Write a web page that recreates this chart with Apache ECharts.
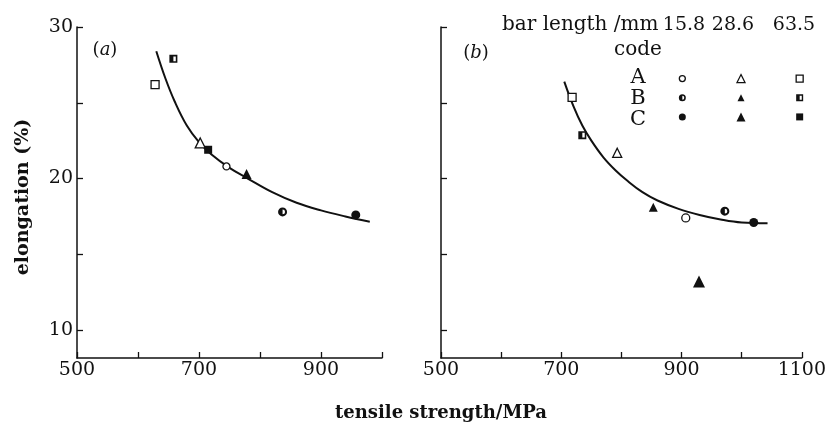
<!DOCTYPE html>
<html>
<head>
<meta charset="utf-8">
<script src="https://cdn.jsdelivr.net/npm/echarts@6/dist/echarts.min.js"></script>
<style>html,body{margin:0;padding:0;background:#fff}#c{width:829px;height:425px}</style>
</head>
<body>
<div id="c"></div>
<script>
// ---- data ----
const lengthsMm = ['15.8', '28.6', '63.5'];
const codes = ['A', 'B', 'C'];
const xTicksA = [500, 600, 700, 800, 900, 1000];
const xTicksB = [500, 600, 700, 800, 900, 1000, 1100];
const yTicks = [10, 15, 20, 25, 30];
const yLabels = [10, 20, 30];

// panel (a)
const aCircleOpen = [[745, 20.8]];
const aCircleHalf = [[837, 17.8]];
const aCircleFull = [[957, 17.6]];
const aTriOpen = [[702, 22.35]];
const aTriFull = [[778, 20.3]];
const aSqOpen = [[628, 26.2]];
const aSqHalf = [[658, 27.9]];
const aSqFull = [[715, 21.9]];
const aCurve = [[630, 28.4], [645, 26.6], [660, 25.1], [680, 23.5], [700, 22.4], [720, 21.6], [750, 20.7], [780, 20.0], [820, 19.1], [860, 18.4], [900, 17.9], [940, 17.5], [980, 17.15]];

// panel (b)
const bCircleOpen = [[907, 17.4]];
const bCircleHalf = [[972, 17.85]];
const bCircleFull = [[1020, 17.1]];
const bTriOpen = [[793, 21.7]];
const bTriHalf = [[853, 18.1]];
const bTriFull = [[929, 13.2]];
const bSqOpen = [[718, 25.35]];
const bSqHalf = [[735, 22.86]];
const bCurve = [[705, 26.4], [720, 24.8], [735, 23.5], [750, 22.5], [770, 21.4], [790, 20.55], [810, 19.85], [835, 19.1], [860, 18.55], [895, 18.0], [930, 17.6], [965, 17.3], [1000, 17.1], [1043, 17.05]];

// legend key (code x bar length)
const keyOpen = [['15.8', 'A'], ['28.6', 'A'], ['63.5', 'A']];
const keyHalf = [['15.8', 'B'], ['28.6', 'B'], ['63.5', 'B']];
const keyFull = [['15.8', 'C'], ['28.6', 'C'], ['63.5', 'C']];

// ---- styles ----
const SERIF = '"DejaVu Serif", "Liberation Serif", serif';
const INK = '#111';
const HALF_CIRCLE = 'path://M0,-10A10,10,0,1,1,0,10A10,10,0,1,1,0,-10ZM0,5.5A5.5,5.5,0,0,0,0,-5.5Z';
const HALF_SQUARE = 'path://M-10,-10L10,-10L10,10L-10,10ZM0,-6L0,6L6,6L6,-6Z';

function scatter(data, kind, fill, size, xi, yi) {
  const shape = { circle: 'circle', triangle: 'triangle', square: 'rect' };
  let symbol = shape[kind];
  let itemStyle;
  if (fill === 'open') {
    itemStyle = { color: '#fff', borderColor: INK, borderWidth: 1.3, opacity: 1 };
  } else if (fill === 'half') {
    if (kind === 'circle') symbol = HALF_CIRCLE;
    else if (kind === 'square') symbol = HALF_SQUARE;
    itemStyle = { color: INK, borderWidth: 0, opacity: 1 };
  } else {
    itemStyle = { color: INK, borderWidth: 0, opacity: 1 };
  }
  return {
    type: 'scatter', xAxisIndex: xi, yAxisIndex: yi, data: data,
    symbol: symbol, symbolSize: size, itemStyle: itemStyle,
    silent: true, z: 5
  };
}
function curve(data, xi, yi) {
  return {
    type: 'line', xAxisIndex: xi, yAxisIndex: yi, data: data, smooth: 0.4,
    showSymbol: false, symbol: 'none', lineStyle: { color: INK, width: 2 }, silent: true, z: 3
  };
}

function xAxis(gi, max, ticks) {
  return {
    type: 'value', gridIndex: gi, min: ticks[0], max: max, interval: 100,
    axisLine: { show: true, onZero: false, lineStyle: { color: INK, width: 1.5 } },
    axisTick: { show: true, inside: true, length: 6, lineStyle: { color: INK, width: 1.3 } },
    axisLabel: { show: true, margin: 3, color: INK, fontFamily: SERIF, fontSize: 19,
      formatter: v => (v % 200 === 100 ? String(v) : '') },
    splitLine: { show: false }
  };
}
function yAxis(gi, showLabels) {
  return {
    type: 'value', gridIndex: gi, min: 8.16, max: 30,
    axisLine: { show: true, onZero: false, lineStyle: { color: INK, width: 1.5 } },
    axisTick: { show: true, inside: true, length: 6, customValues: yTicks, lineStyle: { color: INK, width: 1.3 } },
    axisLabel: { show: showLabels, margin: 4, color: INK, fontFamily: SERIF, fontSize: 19, customValues: yLabels },
    splitLine: { show: false }
  };
}

const option = {
  backgroundColor: '#fff',
  animation: false,
  grid: [
    { left: 77, top: 27, width: 305, height: 331 },
    { left: 441, top: 27, width: 364, height: 331 },
    { left: 653, top: 69, width: 177, height: 57.5 }
  ],
  xAxis: [
    xAxis(0, 1000, xTicksA),
    xAxis(1, 1100, xTicksB),
    { type: 'category', gridIndex: 2, data: lengthsMm, show: false }
  ],
  yAxis: [
    yAxis(0, true),
    yAxis(1, false),
    { type: 'category', gridIndex: 2, data: codes.slice().reverse(), show: false }
  ],
  series: [
    curve(aCurve, 0, 0),
    scatter(aCircleOpen, 'circle', 'open', 7, 0, 0),
    scatter(aCircleHalf, 'circle', 'half', 9, 0, 0),
    scatter(aCircleFull, 'circle', 'full', 9, 0, 0),
    scatter(aTriOpen, 'triangle', 'open', 10, 0, 0),
    scatter(aTriFull, 'triangle', 'full', 10, 0, 0),
    scatter(aSqOpen, 'square', 'open', 8, 0, 0),
    scatter(aSqHalf, 'square', 'half', 8, 0, 0),
    scatter(aSqFull, 'square', 'full', 8, 0, 0),

    curve(bCurve, 1, 1),
    scatter(bCircleOpen, 'circle', 'open', 8, 1, 1),
    scatter(bCircleHalf, 'circle', 'half', 9, 1, 1),
    scatter(bCircleFull, 'circle', 'full', 9, 1, 1),
    scatter(bTriOpen, 'triangle', 'open', 9, 1, 1),
    scatter(bTriHalf, 'triangle', 'full', 9, 1, 1),
    scatter(bTriFull, 'triangle', 'full', 12, 1, 1),
    scatter(bSqOpen, 'square', 'open', 8, 1, 1),
    scatter(bSqHalf, 'square', 'half', 8, 1, 1),

    // legend key
    scatter(keyOpen.slice(0, 1), 'circle', 'open', 6, 2, 2),
    scatter(keyOpen.slice(1, 2), 'triangle', 'open', 8, 2, 2),
    scatter(keyOpen.slice(2, 3), 'square', 'open', 7, 2, 2),
    scatter(keyHalf.slice(0, 1), 'circle', 'half', 7, 2, 2),
    scatter(keyHalf.slice(1, 2), 'triangle', 'full', 7, 2, 2),
    scatter(keyHalf.slice(2, 3), 'square', 'half', 7, 2, 2),
    scatter(keyFull.slice(0, 1), 'circle', 'full', 7, 2, 2),
    scatter(keyFull.slice(1, 2), 'triangle', 'full', 9, 2, 2),
    scatter(keyFull.slice(2, 3), 'square', 'full', 7, 2, 2)
  ],
  graphic: [
    { type: 'text', x: 23, y: 197, rotation: Math.PI / 2, style: { text: 'elongation (%)', font: 'bold 19px ' + SERIF, fill: INK, textAlign: 'center', textVerticalAlign: 'middle' } },
    { type: 'text', x: 441, y: 413, style: { text: 'tensile strength/MPa', font: 'bold 18px ' + SERIF, fill: INK, textAlign: 'center', textVerticalAlign: 'middle' } },
    { type: 'text', x: 105, y: 50, style: { text: '({i|a})', font: '18px ' + SERIF, fill: INK, textAlign: 'center', textVerticalAlign: 'middle', rich: { i: { fontStyle: 'italic', fontFamily: SERIF, fontSize: 18, fill: INK } } } },
    { type: 'text', x: 476, y: 53, style: { text: '({i|b})', font: '18px ' + SERIF, fill: INK, textAlign: 'center', textVerticalAlign: 'middle', rich: { i: { fontStyle: 'italic', fontFamily: SERIF, fontSize: 18, fill: INK } } } },
    { type: 'text', x: 502, y: 25, style: { text: 'bar length /mm', font: '20px ' + SERIF, fill: INK, textAlign: 'left', textVerticalAlign: 'middle' } },
    { type: 'text', x: 684, y: 25, style: { text: lengthsMm[0], font: '19px ' + SERIF, fill: INK, textAlign: 'center', textVerticalAlign: 'middle' } },
    { type: 'text', x: 733, y: 25, style: { text: lengthsMm[1], font: '19px ' + SERIF, fill: INK, textAlign: 'center', textVerticalAlign: 'middle' } },
    { type: 'text', x: 794, y: 25, style: { text: lengthsMm[2], font: '19px ' + SERIF, fill: INK, textAlign: 'center', textVerticalAlign: 'middle' } },
    { type: 'text', x: 638, y: 50, style: { text: 'code', font: '20px ' + SERIF, fill: INK, textAlign: 'center', textVerticalAlign: 'middle' } },
    { type: 'text', x: 638, y: 78, style: { text: codes[0], font: '21px ' + SERIF, fill: INK, textAlign: 'center', textVerticalAlign: 'middle' } },
    { type: 'text', x: 638, y: 99, style: { text: codes[1], font: '21px ' + SERIF, fill: INK, textAlign: 'center', textVerticalAlign: 'middle' } },
    { type: 'text', x: 638, y: 120, style: { text: codes[2], font: '21px ' + SERIF, fill: INK, textAlign: 'center', textVerticalAlign: 'middle' } }
  ]
};

const chart = echarts.init(document.getElementById('c'), null, { renderer: 'canvas' });
chart.setOption(option);
</script>
</body>
</html>
